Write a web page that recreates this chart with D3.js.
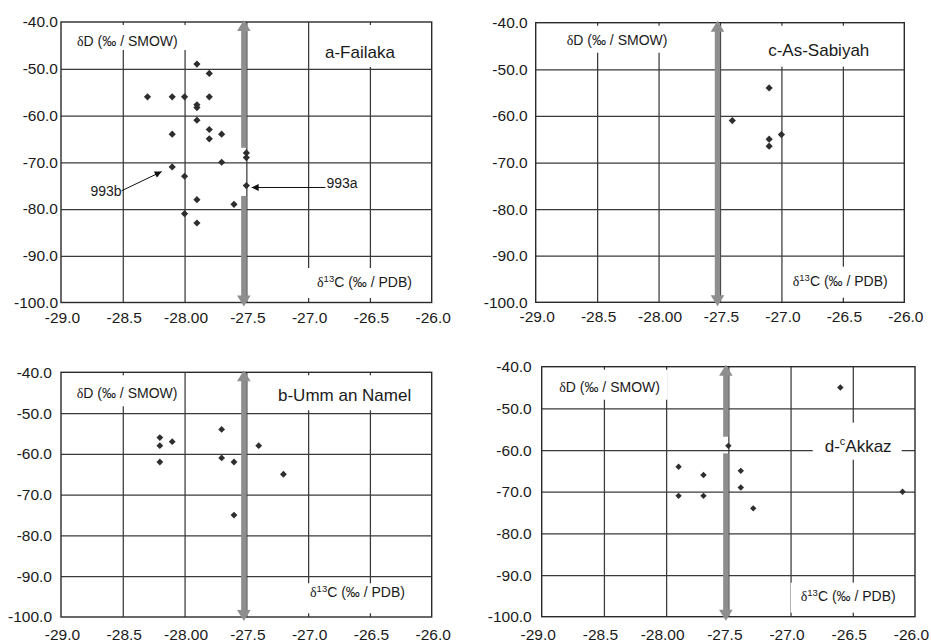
<!DOCTYPE html>
<html><head><meta charset="utf-8">
<script src="https://cdn.jsdelivr.net/npm/d3@7"></script>
<style>body{margin:0;background:#fff}svg{display:block}</style>
</head><body><svg id="chart" width="931" height="642"></svg>
<script>
// ---------- data ----------
const xTicks = [-29, -28.5, -28, -27.5, -27, -26.5, -26];
const xTickLabels = ["-29.0", "-28.5", "-28.00", "-27.5", "-27.0", "-26.5", "-26.0"];
const yTicks = [-40, -50, -60, -70, -80, -90, -100];
const yTickLabels = ["-40.0", "-50.0", "-60.0", "-70.0", "-80.0", "-90.0", "-100.0"];

const failakaC = [-27.9, -27.8, -28.3, -28.1, -28.0, -27.8, -27.9, -27.9, -27.9, -27.8, -27.8, -28.1, -27.7, -27.5, -27.5, -27.7, -28.1, -28.0, -27.5, -27.9, -27.6, -28.0, -27.9];
const failakaD = [-49, -51, -56, -56, -56, -56, -57.7, -58.3, -61, -63, -65, -64, -64, -68, -69, -70, -71, -73, -75, -78, -79, -81, -83];

const ummC = [-28.2, -28.2, -28.1, -28.2, -27.7, -27.7, -27.6, -27.6, -27.4, -27.2];
const ummD = [-56, -58, -57, -62, -54, -61, -62, -75, -58, -65];

const sabiyahC = [-27.1, -27.4, -27.1, -27.1, -27.0];
const sabiyahD = [-54, -61, -65, -66.5, -64];

const akkazC = [-26.6, -27.5, -27.9, -27.9, -27.7, -27.7, -27.4, -27.4, -27.3, -26.1];
const akkazD = [-45, -59, -64, -71, -66, -71, -65, -69, -74, -70];

const limitC = -27.5;                 // grey double arrow position
const failakaGap = [-66.9, -77.2];    // break in the grey arrow (δD)
const akkazGap = [-56.8, -60.8];

const annC993b = [-28.51, -28.185], annD993b = [-76.1, -72.0];
const annC993a = [-26.86, -27.457], annD993a = [-75.4, -75.4];

// ---------- layout ----------
const panels = [
  { name: ["a-Failaka"], C: failakaC, D: failakaD, gap: failakaGap,
    left: 61, top: 22, w: 370.7, h: 280.5, xlabDy: 20, xlabDx: 1, ypad: 3, r: 3.6,
    dBox: [11, 3, 115, 25], dTxt: [16, 23.5],
    tBox: [249, 3, 120, 42], tTxt: [264, 35.5],
    cBox: [244, 246, 124, 30], cTxt: [256, 265] },
  { name: ["c-As-Sabiyah"], C: sabiyahC, D: sabiyahD, gap: null,
    left: 535.7, top: 22.7, w: 368.6, h: 279.6, xlabDy: 20, xlabDx: 1, ypad: 8, r: 3.6,
    dBox: [26, 3, 110, 27], dTxt: [31, 22],
    tBox: [229, 3, 137, 41], tTxt: [232.5, 33.5],
    cBox: [254, 244, 106, 31], cTxt: [257, 263] },
  { name: ["b-Umm an Namel"], C: ummC, D: ummD, gap: null,
    left: 61, top: 372.3, w: 370.7, h: 244.7, xlabDy: 23, xlabDx: 1, ypad: 9, r: 3.4,
    dBox: [11, 3, 110, 31], dTxt: [15.7, 25.5],
    tBox: [206, 3, 163, 35], tTxt: [217, 28.5],
    cBox: [244, 211, 124, 30], cTxt: [249, 225] },
  { name: ["d-", "c", "Akkaz"], C: akkazC, D: akkazD, gap: akkazGap,
    left: 541.7, top: 366.7, w: 373.3, h: 250, xlabDy: 23, xlabDx: -4, ypad: 10, r: 3.2,
    dBox: [5, 3, 121, 30], dTxt: [17.5, 25],
    tBox: [271, 56, 89, 37], tTxt: [283, 85],
    cBox: [249, 216, 107, 30], cTxt: [259, 234] }
];

const svg = d3.select("#chart");
const sans = "'Liberation Sans', Arial, Helvetica, sans-serif";
const serif = "'Liberation Serif', 'DejaVu Serif', serif";
const gridCol = "#3a3a3a";
const arrowCol = "#8e8e8e";
const defs = svg.append("defs");
defs.append("marker").attr("id", "ah").attr("viewBox", "0 0 10 10").attr("refX", 10).attr("refY", 5)
  .attr("markerWidth", 9).attr("markerHeight", 7).attr("markerUnits", "userSpaceOnUse").attr("orient", "auto")
  .append("path").attr("d", "M0,0 L10,5 L0,10 Z").attr("fill", "#111");

panels.forEach((p, idx) => {
  const g = svg.append("g").attr("transform", `translate(${p.left},${p.top})`);
  const x = d3.scaleLinear().domain([-29, -26]).range([0, p.w]);
  const y = d3.scaleLinear().domain([-40, -100]).range([0, p.h]);

  // gridlines via axes
  g.append("g")
    .call(d3.axisBottom(x).tickValues(xTicks.slice(1, -1)).tickSize(p.h).tickFormat(""))
    .call(s => s.select(".domain").remove())
    .call(s => s.selectAll("line").attr("stroke", gridCol).attr("stroke-width", 1.25));
  g.append("g")
    .call(d3.axisRight(y).tickValues(yTicks.slice(1, -1)).tickSize(p.w).tickFormat(""))
    .call(s => s.select(".domain").remove())
    .call(s => s.selectAll("line").attr("stroke", gridCol).attr("stroke-width", 1.25));

  // white label boxes
  [p.dBox, p.tBox, p.cBox].forEach(b => {
    g.append("rect").attr("x", b[0]).attr("y", b[1]).attr("width", b[2]).attr("height", b[3]).attr("fill", "#fff");
  });

  // frame
  g.append("rect").attr("x", 0).attr("y", 0).attr("width", p.w).attr("height", p.h)
    .attr("fill", "none").attr("stroke", "#2a2a2a").attr("stroke-width", 1.4);

  // tick labels
  g.append("g").call(d3.axisLeft(y).tickValues(yTicks).tickSize(0).tickPadding(p.ypad)
      .tickFormat((d, i) => yTickLabels[i]))
    .call(s => s.select(".domain").remove())
    .call(s => s.selectAll("text").attr("font-family", sans).attr("font-size", 15.5).attr("fill", "#1a1a1a"));
  const xl = g.append("g").attr("transform", `translate(0,${p.h})`)
    .call(d3.axisBottom(x).tickValues(xTicks).tickSize(0).tickPadding(0)
      .tickFormat((d, i) => xTickLabels[i]));
  xl.select(".domain").remove();
  xl.selectAll("text").attr("font-family", sans).attr("font-size", 15.5).attr("fill", "#1a1a1a")
    .attr("dy", null).attr("y", p.xlabDy).attr("dx", p.xlabDx);

  // grey double arrow
  const ax = x(limitC) - 2.5;
  const y0 = y(-40) - 2, y1 = y(-100) + 4;
  const hl = 11, hw = 6.8, sw = 2.7;
  const ag = g.append("g").attr("fill", arrowCol);
  ag.append("path").attr("d", `M${ax},${y0} L${ax + hw},${y0 + hl} L${ax - hw},${y0 + hl} Z`);
  ag.append("path").attr("d", `M${ax},${y1} L${ax + hw},${y1 - hl} L${ax - hw},${y1 - hl} Z`);
  if (p.gap) {
    ag.append("rect").attr("x", ax - sw).attr("y", y0 + hl - 1).attr("width", 2 * sw).attr("height", y(p.gap[0]) - (y0 + hl - 1));
    ag.append("rect").attr("x", ax - sw).attr("y", y(p.gap[1])).attr("width", 2 * sw).attr("height", (y1 - hl + 1) - y(p.gap[1]));
  } else {
    ag.append("rect").attr("x", ax - sw).attr("y", y0 + hl - 1).attr("width", 2 * sw).attr("height", (y1 - hl + 1) - (y0 + hl - 1));
  }

  // labels
  const dT = g.append("text").attr("x", p.dTxt[0]).attr("y", p.dTxt[1])
    .attr("font-family", sans).attr("font-size", 14).attr("fill", "#1a1a1a");
  dT.append("tspan").attr("font-family", serif).text("δ");
  dT.append("tspan").text("D (‰ / SMOW)");

  const cT = g.append("text").attr("x", p.cTxt[0]).attr("y", p.cTxt[1])
    .attr("font-family", sans).attr("font-size", 14).attr("fill", "#1a1a1a");
  cT.append("tspan").attr("font-family", serif).text("δ");
  cT.append("tspan").attr("font-size", 9.5).attr("dy", -5).text("13");
  cT.append("tspan").attr("dy", 5).text("C (‰ / PDB)");

  const tT = g.append("text").attr("x", p.tTxt[0]).attr("y", p.tTxt[1])
    .attr("font-family", sans).attr("font-size", 17).attr("fill", "#1a1a1a");
  if (p.name.length === 1) {
    tT.text(p.name[0]);
  } else {
    tT.append("tspan").text(p.name[0]);
    tT.append("tspan").attr("font-size", 11).attr("dy", -7).text(p.name[1]);
    tT.append("tspan").attr("dy", 7).text(p.name[2]);
  }

  // points (diamonds)
  const sym = d3.symbol().type(d3.symbolSquare).size(2 * p.r * p.r);
  g.append("g").selectAll("path").data(p.C.map((c, i) => [c, p.D[i]])).join("path")
    .attr("d", sym)
    .attr("transform", d => `translate(${x(d[0])},${y(d[1])}) rotate(45)`)
    .attr("fill", "#2e2e2e");

  // annotations for Failaka
  if (idx === 0) {
    g.append("line").attr("x1", x(annC993b[0])).attr("y1", y(annD993b[0]))
      .attr("x2", x(annC993b[1])).attr("y2", y(annD993b[1]))
      .attr("stroke", "#111").attr("stroke-width", 1).attr("marker-end", "url(#ah)");
    g.append("text").attr("x", x(annC993b[0])).attr("y", y(annD993b[0]) + 5.5)
      .attr("text-anchor", "end").attr("font-family", sans).attr("font-size", 14).attr("fill", "#1a1a1a").text("993b");
    g.append("line").attr("x1", x(annC993a[0])).attr("y1", y(annD993a[0]))
      .attr("x2", x(annC993a[1])).attr("y2", y(annD993a[1]))
      .attr("stroke", "#111").attr("stroke-width", 1).attr("marker-end", "url(#ah)");
    g.append("text").attr("x", x(annC993a[0]) + 1).attr("y", y(annD993a[0]) + 0.5)
      .attr("font-family", sans).attr("font-size", 14).attr("fill", "#1a1a1a").text("993a");
  }
});
</script>
</body></html>
